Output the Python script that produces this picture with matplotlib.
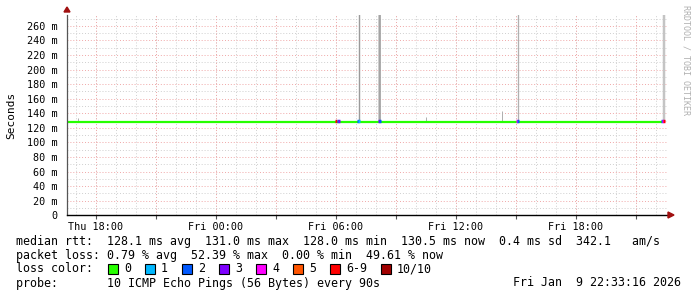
import numpy as np
import matplotlib
matplotlib.use("Agg")
from matplotlib import pyplot as plt
from matplotlib.patches import Rectangle, Polygon

plt.rcParams["font.family"] = "DejaVu Sans Mono"

# time axis in hours since Thu 00:00
t_start, t_end = 16.55, 46.55
median_rtt = 128.0
step = 0.05  # one rrd step (~3 min)

# loss events on the median line: time, loss count
loss_times = [30.0, 30.1, 30.15, 31.1, 31.15, 32.15, 32.2, 39.05, 39.1, 46.3, 46.35, 46.4]
loss_counts = [6, 2, 3, 2, 1, 3, 2, 4, 2, 2, 4, 6]
loss_rtt = [129, 129, 129, 129.5, 129.5, 129.5, 129.5, 129.5, 129.5, 129, 129.5, 130]

# smoke (max ping) spikes
spike_times = [17.1, 31.15, 32.15, 32.2, 34.5, 38.3, 39.1, 46.4]
spike_tops = [133, 300, 300, 300, 135, 143, 300, 300]
spike_cols = ["#b0b0b0", "#9a9a9a", "#bdbdbd", "#9a9a9a", "#b0b0b0", "#b0b0b0",
              "#b0b0b0", "#c4c4c4"]
spike_px = [1, 1.4, 1.5, 1.6, 1, 1, 1.3, 2.5]

loss_colors = ["#26ff00", "#00b8ff", "#0059ff", "#7e00ff", "#ff00ff", "#ff5500", "#ff0000", "#a10000"]
loss_labels = ["0", "1", "2", "3", "4", "5", "6-9", "10/10"]

tick_hours = [18, 24, 30, 36, 42]
tick_labels = ["Thu 18:00", "Fri 00:00", "Fri 06:00", "Fri 12:00", "Fri 18:00"]
y_ticks = [0, 20, 40, 60, 80, 100, 120, 140, 160, 180, 200, 220, 240, 260]

W, H = 697, 297
fig = plt.figure(figsize=(W / 100, H / 100), dpi=100)
ax = fig.add_axes([67 / W, (H - 215.3) / H, 600 / W, 200.3 / H])
ax.set_xlim(t_start, t_end)
ax.set_ylim(0, 275)

# grid
for h in np.arange(17, 47, 1):
    ax.axvline(h, color="#cfcfcf", lw=0.7, ls=(0, (1, 2)), zorder=0)
for h in np.arange(18, 47, 3):
    ax.axvline(h, color="#f0a8a8", lw=0.7, ls=(0, (1, 2)), zorder=0.5)
for v in np.arange(10, 275, 20):
    ax.axhline(v, color="#cfcfcf", lw=0.7, ls=(0, (1, 2)), zorder=0)
for v in np.arange(20, 275, 20):
    ax.axhline(v, color="#f0a8a8", lw=0.7, ls=(0, (1, 2)), zorder=0.5)

# smoke
for t, top, c, px in zip(spike_times, spike_tops, spike_cols, spike_px):
    ax.vlines(t, median_rtt, top, color=c, lw=px * 0.72, zorder=1)

# median line
ax.plot([t_start, 46.3], [median_rtt, median_rtt], color=loss_colors[0], lw=1.6, zorder=2,
        solid_capstyle="butt")
for t, n, r in zip(loss_times, loss_counts, loss_rtt):
    ci = 6 if 6 <= n <= 9 else (7 if n >= 10 else n)
    ax.plot([t - step * 0.7, t + step * 0.7], [r, r], color=loss_colors[ci], lw=2.4, zorder=3,
            solid_capstyle="butt")

# axes styling
for s in ["top", "right"]:
    ax.spines[s].set_visible(False)
ax.spines["left"].set_color("#555555")
ax.spines["left"].set_linewidth(0.9)
ax.spines["bottom"].set_color("black")
ax.spines["bottom"].set_linewidth(1.0)
ax.set_xticks(tick_hours)
ax.set_xticklabels(tick_labels, fontsize=7.3)
ax.set_xticks(np.arange(18, 47, 3), minor=True)
ax.tick_params(axis="x", which="both", length=3, width=0.8, color="#555555", pad=2)
ax.set_yticks(y_ticks)
ax.set_yticklabels(["0" if v == 0 else f"{v} m" for v in y_ticks], fontsize=7.3)
ax.tick_params(axis="y", length=0, pad=7)
ax.set_ylabel("Seconds", fontsize=8)
ax.yaxis.set_label_coords(-51 / 600, 0.5)

# arrows
fig.patches.append(Polygon([[64 / W, (H - 12) / H], [70 / W, (H - 12) / H], [67 / W, (H - 7) / H]],
                           closed=True, color="#a01010", transform=fig.transFigure))
fig.patches.append(Polygon([[668 / W, (H - 212) / H], [668 / W, (H - 218) / H], [674 / W, (H - 215) / H]],
                           closed=True, color="#a01010", transform=fig.transFigure))

# watermark
fig.text(686 / W, (H - 5) / H, "RRDTOOL / TOBI OETIKER", rotation=270, fontsize=6,
         color="#b0b0b0", ha="center", va="top")

# legend
fs = 8.4
def line(x, y, s, **kw):
    fig.text(x / W, (H - y) / H, s, fontsize=fs, va="center", color="black", **kw)

line(16, 241, "median rtt:  128.1 ms avg  131.0 ms max  128.0 ms min  130.5 ms now  0.4 ms sd  342.1   am/s")
line(16, 255, "packet loss: 0.79 % avg  52.39 % max  0.00 % min  49.61 % now")
line(16, 269, "loss color:")
x = 108
for lab, c in zip(loss_labels, loss_colors):
    fig.patches.append(Rectangle((x / W, (H - 273.5) / H), 10 / W, 10 / H, facecolor=c,
                                 edgecolor="black", lw=0.8, transform=fig.transFigure))
    line(x + 16, 269, lab)
    x += 16 + 7 * len(lab) + 14
line(16, 283, "probe:       10 ICMP Echo Pings (56 Bytes) every 90s")
line(681, 283, "Fri Jan  9 22:33:16 2026", ha="right")

fig.savefig("out.png", dpi=100)
